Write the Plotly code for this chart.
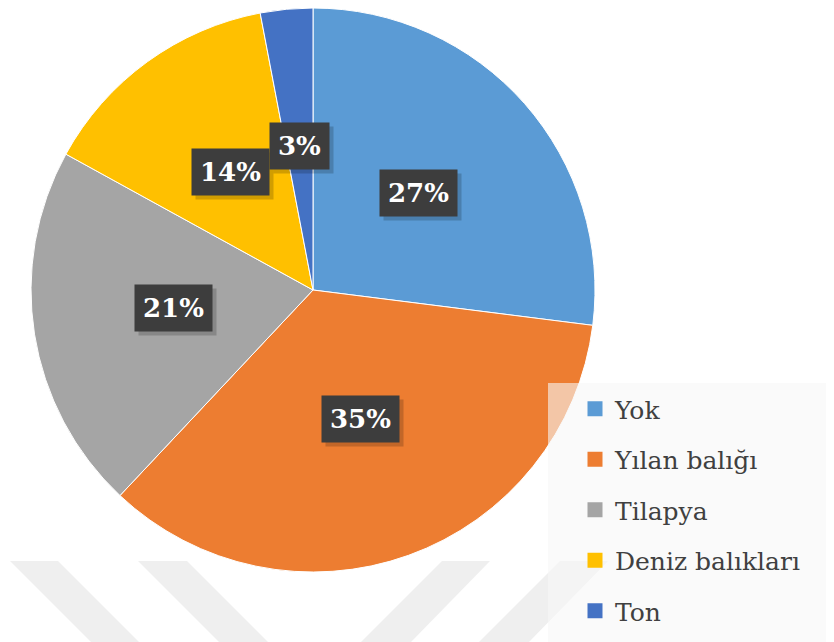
import math
import plotly.graph_objects as go

# *** Data ***
Categories = ["Yok", "Yılan balığı", "Tilapya", "Deniz balıkları", "Ton"]
Percent = [27, 35, 21, 14, 3]
Colors = ["#5B9BD5", "#ED7D31", "#A5A5A5", "#FFC000", "#4472C4"]

W, H = 834, 642
OX, OY = 8, 8  # page body margin of the browser
SERIF = "DejaVu Serif"

def PX(X): return (X - OX) / W  # screen pixel -> paper
def PY(Y): return 1 - (Y - OY) / H

PIE_X = [PX(31), PX(595)]  # domain of the pie (paper)
PIE_Y = [PY(572), PY(8)]
LABEL_R = 0.5  # label distance as fraction of radius

fig = go.Figure()
fig.add_trace(go.Pie(
    labels=Categories,
    values=Percent,
    sort=False,
    direction="clockwise",
    rotation=0,
    marker=dict(colors=Colors, line=dict(color="white", width=1)),
    textinfo="none",
    hoverinfo="label+percent",
    showlegend=False,
    domain=dict(x=PIE_X, y=PIE_Y),
))

# Legend built from dummy traces so the rows can be spaced out
for Name, Col in zip(Categories, Colors):
    fig.add_trace(go.Scatter(
        x=[None], y=[None], mode="markers", name=Name, legendgroup=Name,
        marker=dict(symbol="square", size=15, color=Col),
    ))

# Percentage labels on dark boxes, placed at the middle angle of each slice
Cx = (PIE_X[0] + PIE_X[1]) / 2
Cy = (PIE_Y[0] + PIE_Y[1]) / 2 + 4 / H
Rpx = (PIE_X[1] - PIE_X[0]) * W / 2
Total = sum(Percent)
Start = 0
for Val in Percent:
    Mid = (Start + Val / 2) / Total * 2 * math.pi
    Start += Val
    Ax = Cx + LABEL_R * Rpx * math.sin(Mid) / W
    Ay = Cy + LABEL_R * Rpx * math.cos(Mid) / H
    Txt = "<b>%d%%</b>" % round(Val / Total * 100)
    # soft shadow behind the box
    fig.add_annotation(
        x=Ax + 4 / W, y=Ay - 4 / H, xref="paper", yref="paper", showarrow=False,
        xanchor="center", yanchor="middle",
        text=Txt, font=dict(family=SERIF, size=26, color="rgba(0,0,0,0)"),
        bgcolor="rgba(0,0,0,0.18)", borderpad=8,
    )
    fig.add_annotation(
        x=Ax, y=Ay, xref="paper", yref="paper", showarrow=False,
        xanchor="center", yanchor="middle",
        text=Txt, font=dict(family=SERIF, size=26, color="white"),
        bgcolor="#3D3D3D", borderpad=8,
    )

# Watermark chevrons (background), screen pixels
Chevrons = [
    [(10, 561), (58, 561), (139, 642), (91, 642)],
    [(138, 561), (187, 561), (268, 642), (219, 642)],
    [(442, 561), (490, 561), (411, 642), (361, 642)],
    [(560, 561), (608, 561), (529, 642), (479, 642)],
]
for Pts in Chevrons:
    Path = "M " + " L ".join("%.5f %.5f" % (PX(X), PY(Y)) for X, Y in Pts) + " Z"
    fig.add_shape(type="path", path=Path, xref="paper", yref="paper",
                  line_width=0, fillcolor="#EFEFEF", layer="below")

# Semi-transparent legend panel
fig.add_shape(type="rect", xref="paper", yref="paper",
              x0=PX(548), x1=1, y0=0, y1=PY(383),
              line_width=0, fillcolor="rgba(246,246,246,0.6)", layer="above")

fig.update_layout(
    width=W, height=H,
    margin=dict(l=0, r=0, t=0, b=0),
    paper_bgcolor="white", plot_bgcolor="rgba(0,0,0,0)",
    xaxis=dict(visible=False), yaxis=dict(visible=False),
    legend=dict(
        x=PX(575), y=PY(386), xanchor="left", yanchor="top",
        bgcolor="rgba(0,0,0,0)", tracegroupgap=15,
        font=dict(family=SERIF, size=25, color="#404040"),
        itemsizing="trace",
    ),
)
fig.write_html("out.html")
